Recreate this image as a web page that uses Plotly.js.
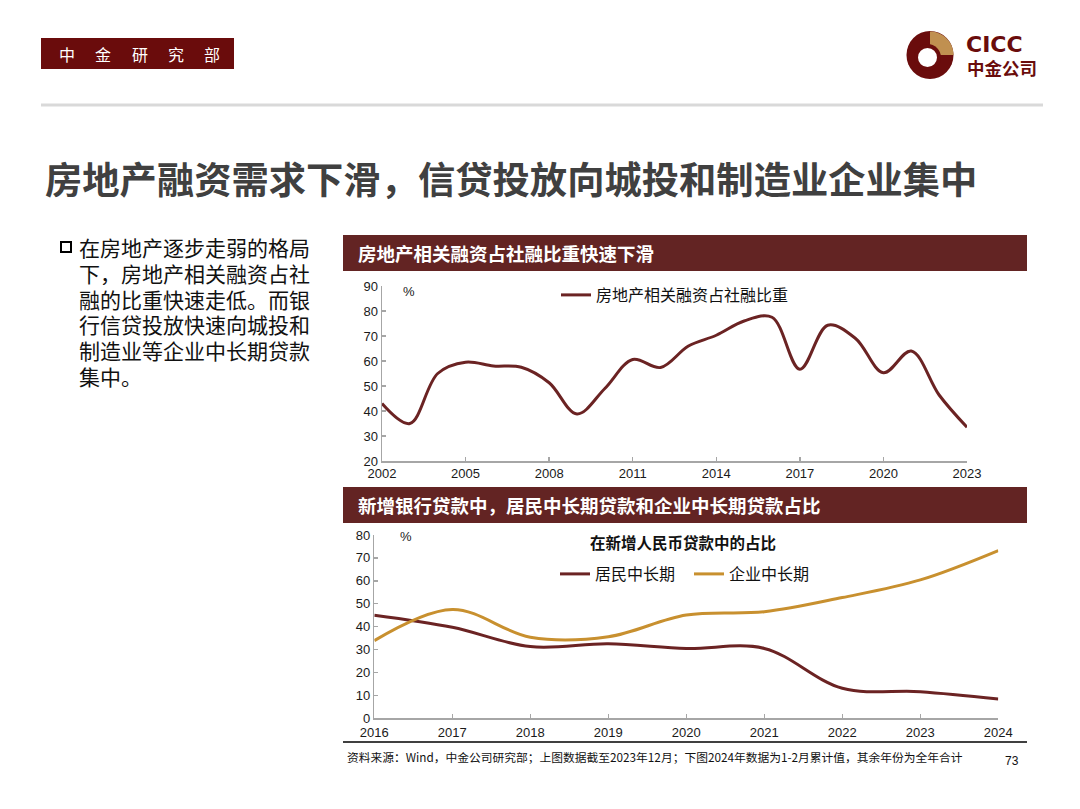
<!DOCTYPE html>
<html><head><meta charset="utf-8">
<script src="https://cdn.plot.ly/plotly-3.0.1.min.js"></script>
<style>html,body{margin:0;padding:0;background:#fff}#chart{width:1080px;height:809px}</style>
</head><body><div id="chart"></div>
<script>
// ---- data ----
const years1 = [2002,2003,2004,2005,2006,2007,2008,2009,2010,2011,2012,2013,2014,2015,2016,2017,2018,2019,2020,2021,2022,2023];
const reShare = [43,35,55,59.5,58,57.5,51.3,38.8,49,60.6,57.4,66,70.3,76,77.5,56.7,74.3,69,55.3,64,46.4,33.5];
const ticks1 = [2002,2005,2008,2011,2014,2017,2020,2023];
const years2 = [2016,2017,2018,2019,2020,2021,2022,2023,2024];
const household = [45,39.7,31.3,32.5,30.5,30.5,13.1,11.6,8.4];
const corporate = [33.9,47.5,35.4,35.6,45.1,46.5,52.7,60.4,73.2];
const name1 = '房地产相关融资占社融比重';
const name2a = '居民中长期';
const name2b = '企业中长期';
const bulletLines = ['在房地产逐步走弱的格局','下，房地产相关融资占社','融的比重快速走低。而银','行信贷投放快速向城投和','制造业等企业中长期贷款','集中。'];
const headerChars = ['中','金','研','究','部'];

const W=1080,H=809;
const px=x=>x/W, py=y=>1-y/H;
const CJK='"Noto Sans CJK SC", "Noto Sans", sans-serif';
const NUM='"Liberation Sans", Arial, sans-serif';
const RED='#6b2323', GOLD='#c8902f', BAR='#632423';

const traces = [
  {x:years1,y:reShare,name:name1,type:'scatter',mode:'lines',line:{color:RED,width:3,shape:'spline',smoothing:1},xaxis:'x',yaxis:'y',legend:'legend',hoverinfo:'skip'},
  {x:years2,y:household,name:name2a,type:'scatter',mode:'lines',line:{color:RED,width:3,shape:'spline',smoothing:1},xaxis:'x2',yaxis:'y2',legend:'legend2',hoverinfo:'skip'},
  {x:years2,y:corporate,name:name2b,type:'scatter',mode:'lines',line:{color:GOLD,width:3,shape:'spline',smoothing:1},xaxis:'x2',yaxis:'y2',legend:'legend2',hoverinfo:'skip'}
];

const axStyle = {showline:true,linecolor:'#a6a6a6',linewidth:1.5,ticks:'inside',ticklen:4,tickcolor:'#a6a6a6',tickwidth:1.5,showgrid:false,zeroline:false,fixedrange:true,tickfont:{family:NUM,size:13,color:'#1a1a1a'}};

const shapes = [];
const ann = [];
function rect(x0,y0,x1,y1,fill){shapes.push({type:'rect',xref:'paper',yref:'paper',x0:px(x0),x1:px(x1),y0:py(y1),y1:py(y0),fillcolor:fill,line:{width:0},layer:'below'});}
function hline(x0,x1,y,color,w){shapes.push({type:'line',xref:'paper',yref:'paper',x0:px(x0),x1:px(x1),y0:py(y),y1:py(y),line:{color:color,width:w}});}
function text(t,x,y,size,color,family,anchor,h){const a={text:t,xref:'paper',yref:'paper',x:px(x),y:py(y),xanchor:anchor||'left',yanchor:'middle',showarrow:false,font:{size:size,color:color,family:family||CJK}};if(h)a.height=h;ann.push(a);}

// header box
rect(41,38,234,69,'#6a0c0c');
headerChars.forEach((c,i)=>text(c,67+i*36.25,54,16,'#ffffff',CJK,'center'));
// logo
shapes.push({type:'circle',xref:'paper',yref:'paper',x0:px(906.5),x1:px(953.5),y0:py(79),y1:py(31),fillcolor:'#6a0c0c',line:{width:0}});
(function(){const cx=930,cy=55,r=23.5;let p='M'+px(cx)+','+py(cy);for(let a=0;a<=90;a+=5){const t=a*Math.PI/180;p+=' L'+px(cx+r*Math.sin(t))+','+py(cy-r*Math.cos(t));}p+=' Z';shapes.push({type:'path',xref:'paper',yref:'paper',path:p,fillcolor:'#c09050',line:{width:0}});})();
shapes.push({type:'circle',xref:'paper',yref:'paper',x0:px(914),x1:px(941),y0:py(71),y1:py(44),fillcolor:'#6a0c0c',line:{width:0}});
shapes.push({type:'circle',xref:'paper',yref:'paper',x0:px(918),x1:px(937),y0:py(67),y1:py(48),fillcolor:'#ffffff',line:{width:0}});
ann.push({text:'<b>CICC</b>',xref:'paper',yref:'paper',x:px(964),y:py(44),xanchor:'left',yanchor:'middle',showarrow:false,font:{size:22,color:'#6a0c0c',family:'"DejaVu Sans", sans-serif'},height:22});
text('<b>中金公司</b>',965,67,17.5,'#6a0c0c',CJK,'left',20);
// separator
hline(41,1043,105,'#d9d9d9',3);
// title
text('<b>房地产融资需求下滑，信贷投放向城投和制造业企业集中</b>',43,178,37.3,'#404040');
// bullet
shapes.push({type:'rect',xref:'paper',yref:'paper',x0:px(61),x1:px(71),y0:py(252),y1:py(242),fillcolor:'rgba(0,0,0,0)',line:{color:'#000',width:2}});
bulletLines.forEach((l,i)=>text(l,77,247+i*25.8,21,'#111111',CJK,'left',24));
// chart headers
rect(343,235,1027,271,BAR);
text('<b>房地产相关融资占社融比重快速下滑</b>',356,253,18.5,'#ffffff');
rect(343,487,1027,523,BAR);
text('<b>新增银行贷款中，居民中长期贷款和企业中长期贷款占比</b>',356,505,18.5,'#ffffff');
hline(343,1027,742,'#404040',2);
// unit labels
text('%',401,291,13,'#1a1a1a',NUM);
text('%',398,536,13,'#1a1a1a',NUM);
text('<b>在新增人民币贷款中的占比</b>',588,542,15.5,'#111111');
// footer
text('资料来源：Wind，中金公司研究部；上图数据截至2023年12月；下图2024年数据为1-2月累计值，其余年份为全年合计',345,756,11.75,'#111111');
text('73',1003,761,12,'#111111',NUM);

const layout = {
  width:W,height:H,margin:{l:0,r:0,t:0,b:0},paper_bgcolor:'#ffffff',plot_bgcolor:'rgba(0,0,0,0)',
  showlegend:true,
  xaxis:Object.assign({},axStyle,{domain:[px(382),px(967)],range:[2002,2023],tickvals:ticks1,anchor:'y'}),
  yaxis:Object.assign({},axStyle,{domain:[py(461),py(286)],range:[20,90],dtick:10,anchor:'x'}),
  xaxis2:Object.assign({},axStyle,{domain:[px(374.3),px(998.3)],range:[2016,2024],tickvals:years2,anchor:'y2',ticklabelstandoff:2}),
  yaxis2:Object.assign({},axStyle,{domain:[py(718.3),py(535)],range:[0,80],dtick:10,anchor:'x2'}),
  legend:{x:px(556),y:py(295),xanchor:'left',yanchor:'middle',bgcolor:'rgba(0,0,0,0)',font:{family:CJK,size:16,color:'#111'},itemwidth:30},
  legend2:{orientation:'h',x:px(555),y:py(574),xanchor:'left',yanchor:'middle',bgcolor:'rgba(0,0,0,0)',font:{family:CJK,size:16,color:'#111'},itemwidth:30,entrywidth:89,entrywidthmode:'pixels'},
  shapes:shapes,annotations:ann
};
Plotly.newPlot('chart',traces,layout,{staticPlot:true,displayModeBar:false});
</script></body></html>
